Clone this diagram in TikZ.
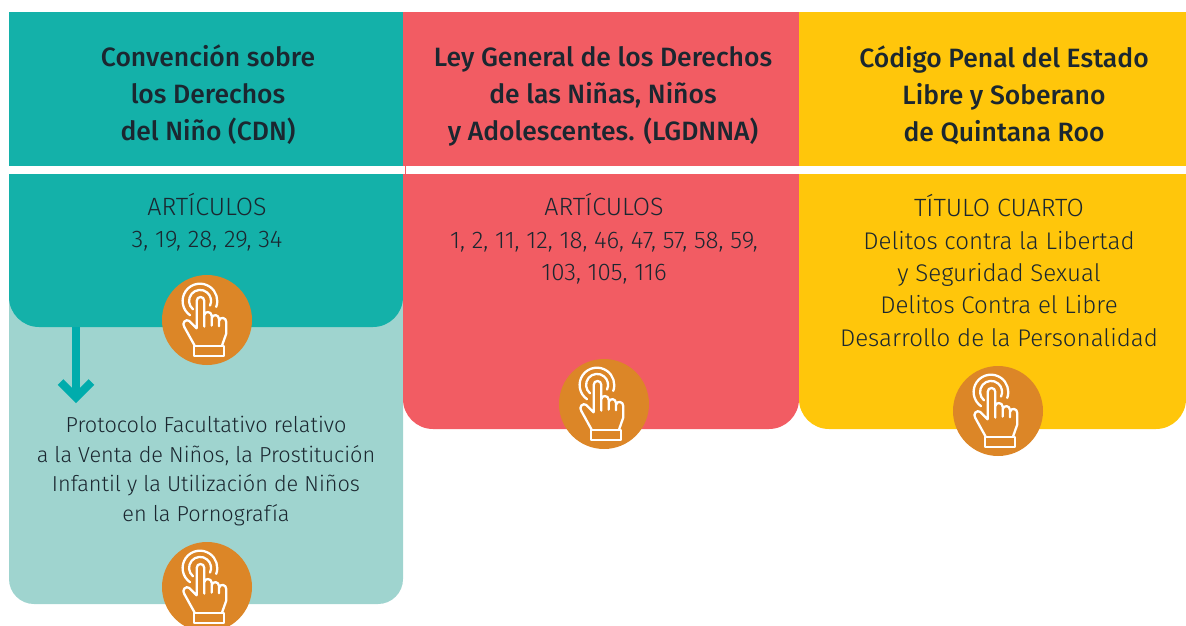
\documentclass[tikz,border=0pt]{standalone}
\usepackage{fontspec}
\setmainfont{Fira Sans Light}
\newfontfamily\headfont{Fira Sans Medium}
\definecolor{tealc}{HTML}{14B1A9}
\definecolor{redc}{HTML}{F25C63}
\definecolor{yellowc}{HTML}{FFC60B}
\definecolor{lightc}{HTML}{9FD4CF}
\definecolor{orangec}{HTML}{DC8627}
\definecolor{arrowc}{HTML}{00ACAC}
\definecolor{inkc}{HTML}{1B2730}
\newcommand{\capsline}[1]{{\fontsize{25}{32.3}\selectfont #1}}
\tikzset{
 x=1pt,y=-1pt,
 head/.style={font=\fontsize{26.5}{37}\headfont,text=inkc,align=center,inner sep=0pt,anchor=center},
 body/.style={font=\fontsize{24.1}{32.3}\selectfont,text=inkc,align=center,inner sep=0pt,anchor=center},
 small/.style={font=\fontsize{21.7}{29.4}\selectfont,text=inkc,align=center,inner sep=0pt,anchor=center},
 disc/.style={circle,fill=orangec,minimum size=90pt,inner sep=0pt},
 handline/.style={draw=white,line width=2.3pt,line join=round,line cap=round},
 pics/hand/.style={code={
  \begin{scope}[x=0.3333pt,y=-0.3333pt,shift={(-171,-165)}]
   \draw[handline] (129,133) arc[start angle=130,end angle=385,radius=33];
   \draw[handline] (120,150.6) arc[start angle=125,end angle=380,radius=52];
   \draw[handline] (140,190) -- (140,108) .. controls (140,92) and (163,92) .. (163,108) -- (163,185)
     (163,150) .. controls (163,138) and (185,138) .. (185,152) -- (185,182)
     (185,160) .. controls (187,146) and (207,148) .. (207,162) -- (207,184)
     (207,168) .. controls (209,154) and (229,156) .. (229,172) -- (229,205) -- (216,242)
     (140,190) -- (118,168) .. controls (108,160) and (94,174) .. (103,186) -- (134,242);
   \draw[handline] (132,242) rectangle (222,272);
  \end{scope}
 }}
}
\begin{document}
\begin{tikzpicture}
\useasboundingbox (0,0) rectangle (1186,626);
\clip (0,0) rectangle (1186,626);
% light panel
\fill[lightc,rounded corners=25pt] (9,270) -- (403,270) -- (403,604) -- (9,604) -- cycle;
% teal column
\fill[tealc] (9,12) rectangle (403,100);
\fill[tealc,rounded corners=30pt] (9,60) -- (403,60) -- (403,327) -- (9,327) -- cycle;
% red column
\fill[redc] (403,12) rectangle (799,100);
\fill[redc,rounded corners=30pt] (403,60) -- (799,60) -- (799,429) -- (403,429) -- cycle;
% yellow column
\fill[yellowc] (799,12) rectangle (1186,100);
\fill[yellowc,rounded corners=30pt] (799,60) -- (1186,60) -- (1186,429) -- (799,429) -- cycle;
% white band
\fill[white] (9,165.5) rectangle (1186,173.5);
\fill[redc] (405,165.5) rectangle (405.8,173.5);
% arrow
\coordinate (arrowstart) at (76,327);
\coordinate (tipleft) at (60.5,382);
\coordinate (tipright) at (91.5,382);
\coordinate (tipjoin) at (76,397.5);
\draw[arrowc,line width=8pt] (arrowstart) -- (tipjoin);
\draw[arrowc,line width=8pt,miter limit=10] (tipleft) -- (tipjoin) -- (tipright);
% headings
\node[head] (h1) at (208,94.5) {Convención sobre\\los Derechos\\del Niño (CDN)};
\node[head] (h2) at (603,96) {Ley General de los Derechos\\de las Niñas, Niños\\y Adolescentes. (LGDNNA)};
\node[head] (h3) at (1004,95) {Código Penal del Estado\\Libre y Soberano\\de Quintana Roo};
% bodies
\node[body] (b1) at (207,222) {\capsline{ARTÍCULOS}\\3, 19, 28, 29, 34};
\node[body] (b2) at (604,239) {\capsline{ARTÍCULOS}\\1, 2, 11, 12, 18, 46, 47, 57, 58, 59,\\103, 105, 116};
\node[body] (b3) at (999,270.5) {\capsline{TÍTULO CUARTO}\\Delitos contra la Libertad\\y Seguridad Sexual\\Delitos Contra el Libre\\Desarrollo de la Personalidad};
\node[small] (b4) at (206,471) {Protocolo Facultativo relativo\\a la Venta de Niños, la Prostitución\\Infantil y la Utilización de Niños\\en la Pornografía};
% discs
\node[disc] (d1) at (207,320) {};
\node[disc] (d2) at (604,404) {};
\node[disc] (d3) at (998,411) {};
\node[disc] (d4) at (207,587) {};
\pic at (d1) {hand};
\pic at (d2) {hand};
\pic at (d3) {hand};
\pic at (d4) {hand};
\end{tikzpicture}
\end{document}
